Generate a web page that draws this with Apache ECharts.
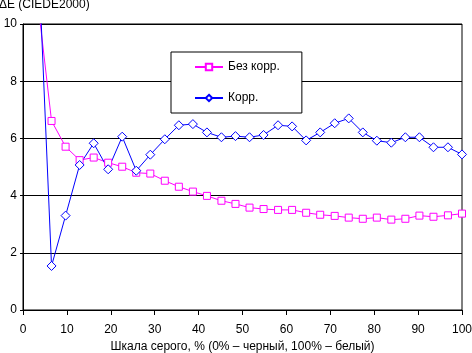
<!DOCTYPE html>
<html>
<head>
<meta charset="utf-8">
<script src="https://cdn.jsdelivr.net/npm/echarts@6/dist/echarts.min.js"></script>
<style>
	html, body { margin: 0; padding: 0; background: #fff; }
	#chart { width: 472px; height: 353px; }
</style>
</head>
<body>
<div id="chart"></div>
<script>
// шкала серого, %
var grayLevels = [3.2, 6.5, 9.7, 12.9, 16.1, 19.4, 22.6, 25.8, 29.0, 32.3, 35.5, 38.7, 41.9, 45.2, 48.4, 51.6,
	54.8, 58.1, 61.3, 64.5, 67.7, 71.0, 74.2, 77.4, 80.6, 83.9, 87.1, 90.3, 93.5, 96.8, 100];
var noCorrValues = [11.0, 6.61, 5.71, 5.24, 5.33, 5.15, 5.01, 4.80, 4.77, 4.52, 4.31, 4.14, 3.99, 3.82, 3.71, 3.58,
	3.53, 3.50, 3.50, 3.40, 3.33, 3.29, 3.23, 3.19, 3.23, 3.16, 3.19, 3.30, 3.26, 3.31, 3.37];
var corrValues = [13.5, 1.54, 3.30, 5.07, 5.83, 4.92, 6.06, 4.87, 5.43, 5.97, 6.46, 6.50, 6.21, 6.04, 6.08, 6.04,
	6.12, 6.46, 6.42, 5.93, 6.21, 6.53, 6.70, 6.21, 5.92, 5.85, 6.04, 6.04, 5.69, 5.69, 5.44];
var seriesNames = ['Без корр.', 'Корр.'];
var xTicks = [0, 10, 20, 30, 40, 50, 60, 70, 80, 90, 100];
var yTicks = [0, 2, 4, 6, 8, 10];

function toPairs(xs, ys) {
	var out = [];
	for (var i = 0; i < xs.length; i++) {
		out.push([xs[i], ys[i]]);
	}
	return out;
}

var myChart = echarts.init(document.getElementById('chart'));
var font = 'Liberation Sans, Arial, sans-serif';
var option = {
	animation: false,
	textStyle: { fontFamily: font },
	grid: {
		left: 23, right: 10, top: 24, bottom: 43,
		outerBoundsMode: 'none',
		containLabel: false,
		show: true, borderColor: '#000', borderWidth: 1, backgroundColor: 'transparent'
	},
	legend: {
		data: seriesNames,
		orient: 'vertical',
		left: 171, top: 52,
		padding: [9, 22, 9, 23],
		itemGap: 19,
		itemWidth: 28, itemHeight: 8,
		backgroundColor: '#fff',
		borderColor: '#000', borderWidth: 1, borderRadius: 0,
		textStyle: { fontFamily: font, fontSize: 12, color: '#000' }
	},
	xAxis: {
		type: 'value',
		min: xTicks[0], max: xTicks[xTicks.length - 1], interval: 10,
		name: 'Шкала серого, % (0% – черный, 100% – белый)',
		nameLocation: 'middle', nameGap: 30,
		nameTextStyle: { fontFamily: font, fontSize: 12, color: '#000' },
		axisLine: { lineStyle: { color: '#000', width: 1 } },
		axisTick: { show: true, length: 5, lineStyle: { color: '#000' } },
		axisLabel: { color: '#000', fontSize: 12, margin: 14, fontFamily: font },
		splitLine: { show: false }
	},
	yAxis: {
		type: 'value',
		min: yTicks[0], max: yTicks[yTicks.length - 1], interval: 2,
		name: 'ΔE (CIEDE2000)',
		nameLocation: 'end', nameGap: 13,
		nameTextStyle: { fontFamily: font, fontSize: 12, color: '#000', align: 'left', padding: [0, 0, 0, -24] },
		axisLine: { show: true, lineStyle: { color: '#000', width: 1 } },
		axisTick: { show: true, length: 3, lineStyle: { color: '#000' } },
		axisLabel: { color: '#000', fontSize: 12, margin: 6, fontFamily: font },
		splitLine: { show: true, lineStyle: { color: '#000', width: 1 } }
	},
	series: [
		{
			name: seriesNames[0],
			type: 'line',
			data: toPairs(grayLevels, noCorrValues),
			clip: true,
			symbol: 'rect',
			symbolSize: 7,
			showAllSymbol: true,
			lineStyle: { color: '#ff00ff', width: 1 },
			itemStyle: { color: '#fff', borderColor: '#ff00ff', borderWidth: 1 }
		},
		{
			name: seriesNames[1],
			type: 'line',
			data: toPairs(grayLevels, corrValues),
			clip: true,
			symbol: 'diamond',
			symbolSize: 9,
			showAllSymbol: true,
			lineStyle: { color: '#0000ff', width: 1 },
			itemStyle: { color: '#fff', borderColor: '#0000ff', borderWidth: 1 }
		}
	]
};
myChart.setOption(option);
</script>
</body>
</html>
